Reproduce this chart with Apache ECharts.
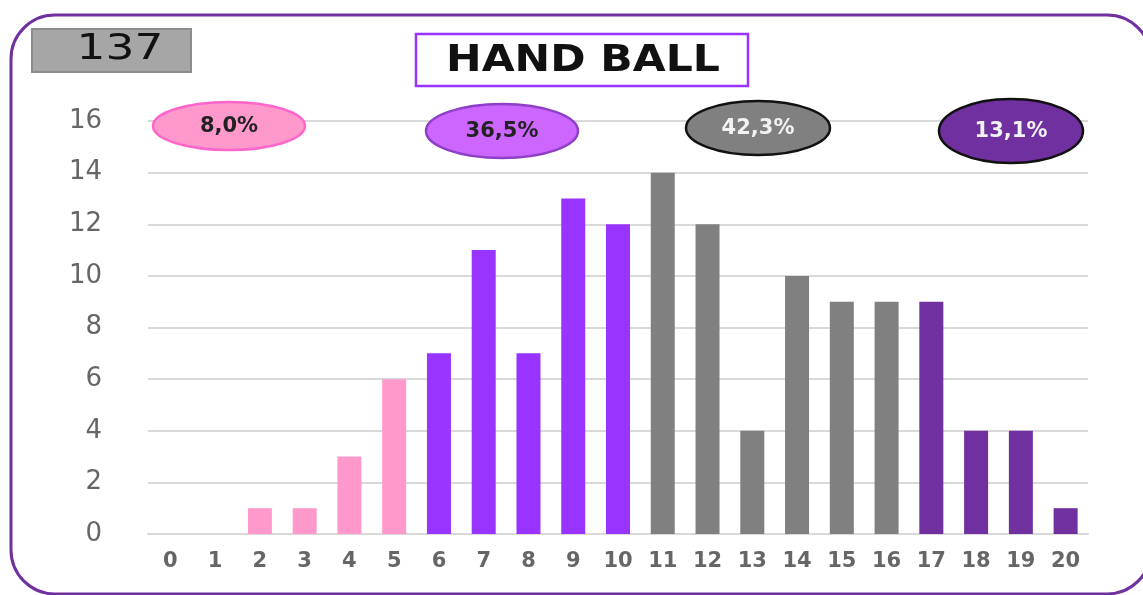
<!DOCTYPE html>
<html lang="en">
<head>
	<meta charset="UTF-8">
	<title>HAND BALL</title>
	<script src="https://cdn.jsdelivr.net/npm/echarts@6/dist/echarts.min.js"></script>
	<style>
		html,body{margin:0;padding:0;background:#fff;}
		#main{width:1143px;height:595px;}
	</style>
</head>
<body>
<div id="main"></div>
<script>
	// notes 0..20
	var categories = ['0','1','2','3','4','5','6','7','8','9','10','11','12','13','14','15','16','17','18','19','20'];
	var counts = [0,0,1,1,3,6,7,11,7,13,12,14,12,4,10,9,9,9,4,4,1];
	// tranches de notes : premier et dernier index
	var groupStart = [0,6,11,17];
	var groupEnd = [5,10,16,20];
	var groupPct = ['8,0%','36,5%','42,3%','13,1%'];
	var total = '137';
	var title = 'HAND BALL';
	var yTicks = [0,2,4,6,8,10,12,14,16];

	var barColors = ['#ff99cc','#9933ff','#808080','#7030a0'];
	var bubbles = [
		{cx:229,cy:126,rx:76,ry:24,fill:'#ff99cc',stroke:'#ff66cc',text:'#222'},
		{cx:502,cy:131,rx:76,ry:27,fill:'#cc66ff',stroke:'#8e3fc8',text:'#222'},
		{cx:758,cy:128,rx:72,ry:27,fill:'#808080',stroke:'#111',text:'#f2f2f2'},
		{cx:1011,cy:131,rx:72,ry:32,fill:'#7030a0',stroke:'#111',text:'#f2f2f2'}
	];

	//couleur de chaque barre selon sa tranche
	function colorOf(i){
		for(var g=0;g<groupStart.length;g++){
			if(i>=groupStart[g]&&i<=groupEnd[g]) return barColors[g];
		}
		return '#808080';
	}
	var barData=[];
	for(var i=0;i<counts.length;i++){
		barData.push({value:counts[i],itemStyle:{color:colorOf(i)}});
	}

	var graphics=[
		{type:'rect',shape:{x:11,y:15,width:1140,height:579,r:44},style:{fill:'none',stroke:'#7030a0',lineWidth:3},z:0},
		{type:'rect',shape:{x:32,y:29,width:159,height:43},style:{fill:'#a6a6a6',stroke:'#8c8c8c',lineWidth:2},z:5},
		{type:'text',x:120,y:50,scaleX:1.3,style:{text:total,fill:'#111',font:'35px "DejaVu Sans"',align:'center',verticalAlign:'middle'},z:6},
		{type:'rect',shape:{x:416,y:34,width:332,height:52},style:{fill:'#fff',stroke:'#9933ff',lineWidth:2.5},z:5},
		{type:'text',x:583,y:61,scaleX:1.15,style:{text:title,fill:'#111',font:'bold 37px "DejaVu Sans"',align:'center',verticalAlign:'middle'},z:6}
	];
	for(var b=0;b<bubbles.length;b++){
		var s=bubbles[b];
		graphics.push({type:'ellipse',shape:{cx:s.cx,cy:s.cy,rx:s.rx,ry:s.ry},style:{fill:s.fill,stroke:s.stroke,lineWidth:2.5},z:10});
		graphics.push({type:'text',x:s.cx,y:s.cy+1,style:{text:groupPct[b],fill:s.text,font:'bold 21px "DejaVu Sans"',align:'center',verticalAlign:'middle'},z:11});
	}

	var myChart = echarts.init(document.getElementById('main'));
	var option = {
		backgroundColor:'#fff',
		animation:false,
		grid:{left:148,right:55,top:121,bottom:61},
		xAxis:{
			type:'category',
			data:categories,
			axisTick:{show:false},
			axisLine:{lineStyle:{color:'#d9d9d9',width:2}},
			axisLabel:{color:'#666',fontSize:21,fontWeight:'bold',fontFamily:'DejaVu Sans',margin:17,interval:0}
		},
		yAxis:{
			type:'value',
			min:yTicks[0],
			max:yTicks[yTicks.length-1],
			interval:2,
			axisLine:{show:false},
			axisTick:{show:false},
			splitLine:{lineStyle:{color:'#d9d9d9',width:2}},
			axisLabel:{color:'#666',fontSize:26,fontFamily:'DejaVu Sans',margin:46}
		},
		series:[{
			type:'bar',
			data:barData,
			barWidth:24
		}],
		graphic:graphics
	};
	myChart.setOption(option);
</script>
</body>
</html>
